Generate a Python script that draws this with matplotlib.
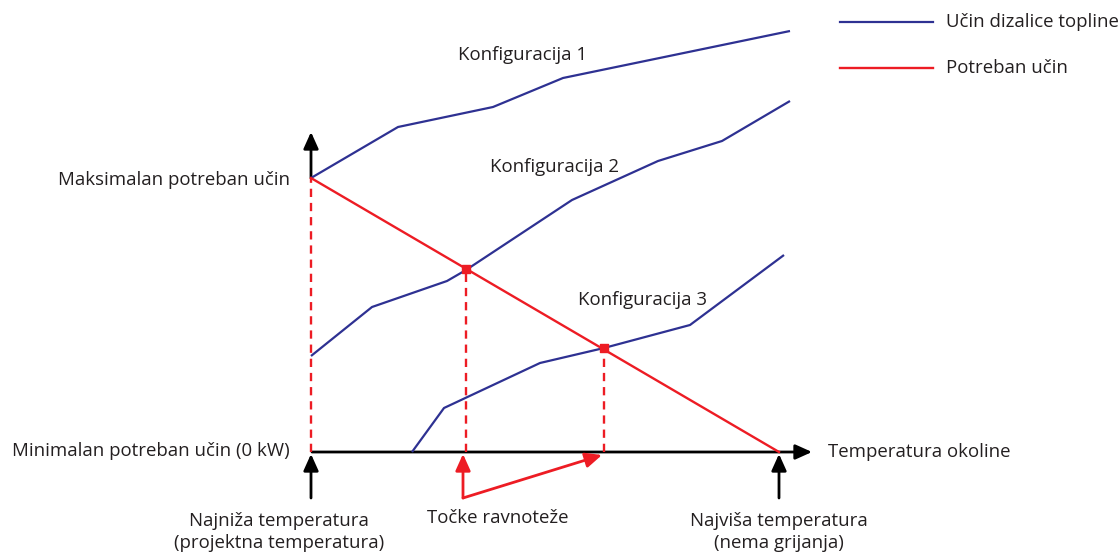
import matplotlib
matplotlib.use("Agg")
from matplotlib import pyplot as plt

plt.rcParams['font.family'] = ['Open Sans', 'DejaVu Sans']

# temperatura (x) i učin (y), ishodište u točki najniže temperature / 0 kW
konf1_x = [0, 87, 182, 252, 479]
konf1_y = [274, 325, 345, 374, 421]
konf2_x = [0, 61, 136, 155, 261, 347, 411, 479]
konf2_y = [96, 145, 171, 182, 252, 291, 311, 351]
konf3_x = [101, 133, 229, 293, 379, 473]
konf3_y = [0, 44, 89, 104, 127, 197]
potreban_x = [0, 468]
potreban_y = [274, 0]
ravnoteza_x = [155, 293]
ravnoteza_y = [183, 104]

BLUE = '#2e3192'
RED = '#ed1c24'
TXT = '#231f20'
HEAD = '-|>,head_length=1.0,head_width=0.45'
DASH = (0, (3.5, 2.5))

fig = plt.figure(figsize=(11.19, 5.52), dpi=100)
ax = fig.add_axes([0, 0, 1, 1])
ax.set_xlim(-311, 808)
ax.set_ylim(-100, 452)
ax.axis('off')

# krivulje učina dizalice topline
for xs, ys in [(konf1_x, konf1_y), (konf2_x, konf2_y), (konf3_x, konf3_y)]:
    ax.plot(xs, ys, color=BLUE, lw=1.6, solid_capstyle='butt', zorder=3)
ax.plot(potreban_x, potreban_y, color=RED, lw=1.7, zorder=4)

# isprekidane linije
ax.plot([0, 0], [0, potreban_y[0]], color=RED, lw=1.7, ls=DASH, zorder=2)
for x, y in zip(ravnoteza_x, ravnoteza_y):
    ax.plot([x, x], [0, y], color=RED, lw=1.7, ls=DASH, zorder=2)
ax.scatter(ravnoteza_x, ravnoteza_y, marker='s', s=40, color=RED, zorder=5)

# osi
ax.annotate('', xy=(501, 0), xytext=(1, 0),
            arrowprops=dict(arrowstyle=HEAD, color='black', lw=2, shrinkA=0, shrinkB=0), zorder=1)
ax.annotate('', xy=(0, 320), xytext=(0, potreban_y[0]),
            arrowprops=dict(arrowstyle=HEAD, color='black', lw=2, shrinkA=0, shrinkB=0), zorder=1)

# strelice ispod osi
for x in [0, potreban_x[1]]:
    ax.annotate('', xy=(x, -2), xytext=(x, -46),
                arrowprops=dict(arrowstyle=HEAD, color='black', lw=2, shrinkA=0, shrinkB=0))
ax.annotate('', xy=(ravnoteza_x[0] - 3, -2), xytext=(ravnoteza_x[0] - 3, -46),
            arrowprops=dict(arrowstyle=HEAD, color=RED, lw=2, shrinkA=0, shrinkB=0))
ax.annotate('', xy=(ravnoteza_x[1] - 2, -3), xytext=(ravnoteza_x[0] - 3, -46),
            arrowprops=dict(arrowstyle=HEAD, color=RED, lw=2, shrinkA=0, shrinkB=0))

fs = 13.4
ax.text(-21, 272, 'Maksimalan potreban učin', ha='right', va='center', fontsize=fs, color=TXT)
ax.text(-21, 1, 'Minimalan potreban učin (0 kW)', ha='right', va='center', fontsize=fs, color=TXT)
ax.text(517, 0, 'Temperatura okoline', ha='left', va='center', fontsize=fs, color=TXT)
ax.text(-32, -80, 'Najniža temperatura\n(projektna temperatura)', ha='center', va='center',
        fontsize=fs, color=TXT, linespacing=1.35)
ax.text(187, -66, 'Točke ravnoteže', ha='center', va='center', fontsize=fs, color=TXT)
ax.text(468, -80, 'Najviša temperatura\n(nema grijanja)', ha='center', va='center',
        fontsize=fs, color=TXT, linespacing=1.35)
ax.text(212, 397, 'Konfiguracija 1', ha='center', va='center', fontsize=fs, color=TXT)
ax.text(244, 285, 'Konfiguracija 2', ha='center', va='center', fontsize=fs, color=TXT)
ax.text(331, 152, 'Konfiguracija 3', ha='center', va='center', fontsize=fs, color=TXT)

# legenda
ax.plot([529, 622], [430, 430], color=BLUE, lw=1.6)
ax.plot([529, 622], [384, 384], color=RED, lw=1.7)
ax.text(635, 430, 'Učin dizalice topline', ha='left', va='center', fontsize=fs, color=TXT)
ax.text(635, 384, 'Potreban učin', ha='left', va='center', fontsize=fs, color=TXT)

fig.savefig('out.png', dpi=100, facecolor='white')
